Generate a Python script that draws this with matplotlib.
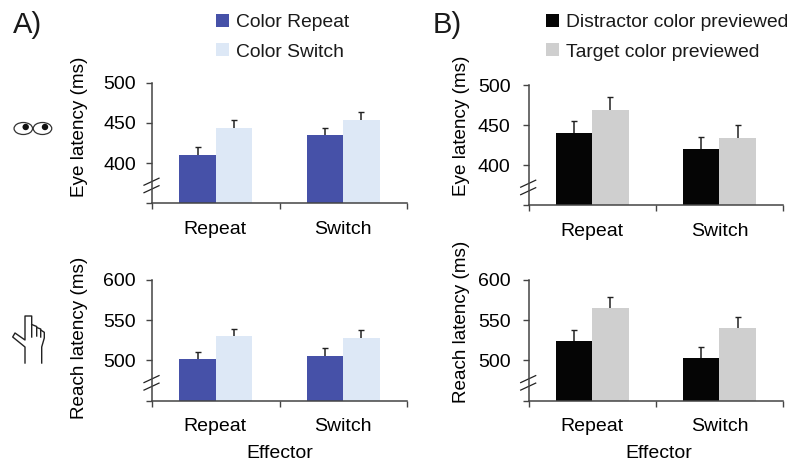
import matplotlib
matplotlib.use('Agg')
import matplotlib.pyplot as plt
from matplotlib.patches import Ellipse

W, H = 800, 471

plt.rcParams['font.family'] = ['Liberation Sans', 'DejaVu Sans']
plt.rcParams['font.size'] = 14
plt.rcParams['text.color'] = '#1a1a1a'

groups = ['Repeat', 'Switch']

# Panel A values
a_eye_repeat = [410, 435]
a_eye_repeat_err = [420, 444]
a_eye_switch = [444, 454]
a_eye_switch_err = [453, 464]
a_reach_repeat = [502, 506]
a_reach_repeat_err = [511, 515]
a_reach_switch = [531, 528.5]
a_reach_switch_err = [539, 538]

# Panel B values
b_eye_dist = [440.5, 421]
b_eye_dist_err = [456, 436]
b_eye_targ = [469.5, 434.5]
b_eye_targ_err = [485, 450]
b_reach_dist = [524, 503]
b_reach_dist_err = [538, 517]
b_reach_targ = [565, 540.5]
b_reach_targ_err = [578.5, 554.5]

blue = '#4651a8'
light = '#dde8f6'
black = '#050505'
grey = '#cfcfcf'
axis_col = '#444444'


def make_axes(left, right, top, bottom):
    ax = fig.add_axes([left / W, 1 - bottom / H, (right - left) / W, (bottom - top) / H])
    ax.box_px = (left, right, top, bottom)
    return ax


def draw_panel(ax, v1, e1, v2, e2, c1, c2, ymin, ylabel, ylabel_px, xlabel_x=None,
               label_pos=(0.5, 1.5), pad=7.5):
    left, right, top, bottom = ax.box_px
    ymax = ymin + 150
    width = 0.286
    x1 = [0.5 - width / 2, 1.5 - width / 2]
    x2 = [0.5 + width / 2, 1.5 + width / 2]
    b1 = ax.bar(x1, v1, width, color=c1)
    b2 = ax.bar(x2, v2, width, color=c2)
    # upper error bars only, no lower cap
    for x, v, e in list(zip(x1, v1, e1)) + list(zip(x2, v2, e2)):
        eb = ax.errorbar(x, v, yerr=[[0], [e - v]], color='#222222', lw=1.1, capsize=2.1, capthick=1.0)
        eb[1][0].set_visible(False)
    ax.set_xlim(0, 2)
    ax.set_ylim(ymin, ymax)
    ax.set_yticks([ymin, ymin + 50, ymin + 100, ymin + 150])
    ax.set_yticklabels(['', str(ymin + 50), str(ymin + 100), str(ymin + 150)])
    ax.set_xticks([0, 1, 2])
    ax.set_xticklabels([])
    ax.set_xticks(list(label_pos), groups, minor=True)
    ax.tick_params(axis='x', which='minor', length=0, pad=12.5, labelsize=14)
    ax.tick_params(axis='x', which='major', length=4, width=1, color=axis_col)
    ax.tick_params(axis='y', length=4, width=1, color=axis_col, pad=pad, labelsize=14)
    for s in ['top', 'right']:
        ax.spines[s].set_visible(False)
    for s in ['left', 'bottom']:
        ax.spines[s].set_color(axis_col)
        ax.spines[s].set_linewidth(1.1)

    w_px = right - left
    h_px = bottom - top
    ax.set_ylabel(ylabel, fontsize=13.6, va='center')
    ax.yaxis.set_label_coords((ylabel_px[0] - left) / w_px, (bottom - ylabel_px[1]) / h_px)
    if xlabel_x:
        ax.set_xlabel('Effector', fontsize=14, va='center')
        ax.xaxis.set_label_coords((xlabel_x - left) / w_px, (bottom - 453) / h_px)

    # axis break, two slanted strokes across the y axis
    for low_px in (10.6, 18.1):
        ax.plot([-8 / w_px, 7 / w_px], [low_px / h_px, (low_px + 7) / h_px],
                color='#222222', lw=0.9, clip_on=False, transform=ax.transAxes)
    return b1, b2


fig = plt.figure(figsize=(W / 100, H / 100), dpi=100)

ax_a1 = make_axes(152, 407, 82.7, 203.3)
ax_a2 = make_axes(152, 407, 280, 400.7)
ax_b1 = make_axes(528.7, 783, 85.3, 205.3)
ax_b2 = make_axes(528.7, 783, 280, 400.7)

h1, h2 = draw_panel(ax_a1, a_eye_repeat, a_eye_repeat_err, a_eye_switch, a_eye_switch_err,
                    blue, light, 350, 'Eye latency (ms)', (79, 127), label_pos=(0.49, 1.5))
draw_panel(ax_a2, a_reach_repeat, a_reach_repeat_err, a_reach_switch, a_reach_switch_err,
           blue, light, 450, 'Reach latency (ms)', (79, 338), xlabel_x=280, label_pos=(0.49, 1.5))
h3, h4 = draw_panel(ax_b1, b_eye_dist, b_eye_dist_err, b_eye_targ, b_eye_targ_err,
                    black, grey, 350, 'Eye latency (ms)', (462, 126), pad=9)
draw_panel(ax_b2, b_reach_dist, b_reach_dist_err, b_reach_targ, b_reach_targ_err,
           black, grey, 450, 'Reach latency (ms)', (462, 322), xlabel_x=659, pad=9)

legend_opts = dict(frameon=False, fontsize=13.85, handlelength=0.68, handleheight=0.68,
                   handletextpad=0.36, labelspacing=0.62, borderpad=0, borderaxespad=0,
                   loc='upper left', bbox_transform=fig.transFigure)
fig.legend([h1, h2], ['Color Repeat', 'Color Switch'], bbox_to_anchor=(216 / W, 1 - 14 / H), **legend_opts)
fig.legend([h3, h4], ['Distractor color previewed', 'Target color previewed'],
           bbox_to_anchor=(546 / W, 1 - 14 / H), **legend_opts)

fig.text(13 / W, 1 - 33 / H, 'A)', fontsize=21)
fig.text(433 / W, 1 - 33 / H, 'B)', fontsize=21)

# overlay in pixel coordinates for the two little icons
ov = fig.add_axes([0, 0, 1, 1])
ov.set_xlim(0, W)
ov.set_ylim(H, 0)
ov.axis('off')
ov.patch.set_alpha(0)

for cx, px in ((23.3, 25.7), (42.5, 45)):
    ov.add_patch(Ellipse((cx, 128.5), 18.5, 12, fill=False, ec='#333333', lw=0.9))
    ov.add_patch(Ellipse((px, 127), 5, 5, color='#111111'))

hand_col = '#222222'
# left side, thumb and index finger
ov.plot([25, 25, 12.7, 15, 25, 25, 31.7, 31.7], [363, 347, 337, 333, 340, 316, 316, 337], color=hand_col, lw=1.0)
# remaining fingers and right side
ov.plot([31.7, 36.7, 36.7], [324.5, 326.5, 336], color=hand_col, lw=1.0)
ov.plot([36.7, 40.7, 40.7], [327.5, 329, 337], color=hand_col, lw=1.0)
ov.plot([40.7, 44.3, 44.3, 41.7, 41.7], [330, 332.3, 338, 347, 363], color=hand_col, lw=1.0)

fig.savefig('out.png', dpi=100)
